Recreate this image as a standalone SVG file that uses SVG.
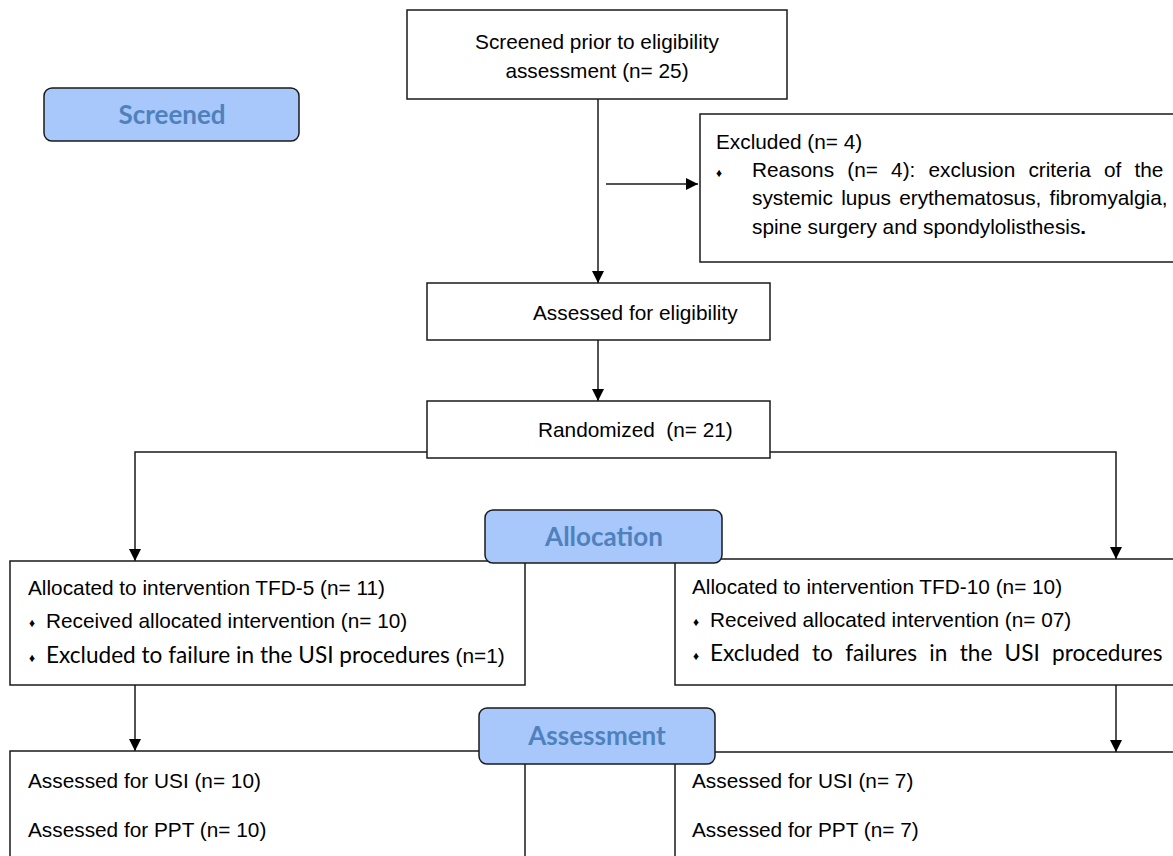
<svg xmlns="http://www.w3.org/2000/svg" width="1173" height="856" viewBox="0 0 1173 856">
<defs>
<marker id="ah" viewBox="0 0 12 12" refX="12" refY="6" markerWidth="12" markerHeight="12" markerUnits="userSpaceOnUse" orient="auto">
<path d="M0,0 L12,6 L0,12 Z" fill="#000"/>
</marker>
<style>
.box{fill:#fff;stroke:#1a1a1a;stroke-width:1.5}
.hdr{fill:#a8c8fb;stroke:#1a1a1a;stroke-width:1.5}
.ht{font-family:Lato,"Open Sans",sans-serif;font-weight:bold;font-size:26px;fill:#4f81bd;text-anchor:middle}
.t{font-family:"Liberation Sans",Arial,sans-serif;font-size:20.8px;fill:#000}
.c{font-family:Lato,"Open Sans",sans-serif;font-size:22.6px;fill:#000}
.b{font-family:"Liberation Sans",Arial,sans-serif;font-size:12px;fill:#000}
.ln{fill:none;stroke:#1a1a1a;stroke-width:1.5}
</style>
</defs>
<rect width="1173" height="856" fill="#fff"/>

<g id="connectors">
<path class="ln" d="M598,99 V283" marker-end="url(#ah)"/>
<path class="ln" d="M606,184 H698" marker-end="url(#ah)"/>
<path class="ln" d="M598,340 V401" marker-end="url(#ah)"/>
<path class="ln" d="M427,452 H135 V561" marker-end="url(#ah)"/>
<path class="ln" d="M770,452 H1116 V559" marker-end="url(#ah)"/>
<path class="ln" d="M135,685 V751" marker-end="url(#ah)"/>
<path class="ln" d="M1116,685 V752" marker-end="url(#ah)"/>
</g>

<g id="screened-prior">
<rect class="box" x="407" y="10" width="380" height="89"/>
<text class="t" x="597" y="49" text-anchor="middle">Screened prior to eligibility</text>
<text class="t" x="597" y="78" text-anchor="middle">assessment (n= 25)</text>
</g>

<g id="excluded">
<rect class="box" x="700" y="114" width="480" height="148"/>
<text class="t" x="716" y="149">Excluded (n= 4)</text>
<text class="b" x="716" y="177">♦</text>
<text class="t" x="752" y="177" word-spacing="7.4">Reasons (n= 4): exclusion criteria of the</text>
<text class="t" x="752" y="205" word-spacing="2.5">systemic lupus erythematosus, fibromyalgia,</text>
<text class="t" x="752" y="234">spine surgery and spondylolisthesis<tspan font-weight="bold">.</tspan></text>
</g>

<g id="assessed-eligibility">
<rect class="box" x="427" y="283" width="343" height="57"/>
<text class="t" x="533" y="320">Assessed for eligibility</text>
</g>

<g id="randomized">
<rect class="box" x="427" y="401" width="343" height="57"/>
<text class="t" x="538" y="437" xml:space="preserve">Randomized  (n= 21)</text>
</g>

<g id="alloc-left">
<rect class="box" x="10" y="561" width="515" height="124"/>
<text class="t" x="28" y="595">Allocated to intervention TFD-5 (n= 11)</text>
<text class="b" x="29" y="627">♦</text>
<text class="t" x="46" y="628">Received allocated intervention (n= 10)</text>
<text class="b" x="29" y="662">♦</text>
<text class="c" x="46" y="663">Excluded to failure in the USI procedures <tspan font-size="20.8px" font-family="Liberation Sans, Arial, sans-serif">(n=1)</tspan></text>
</g>

<g id="alloc-right">
<rect class="box" x="675" y="559" width="510" height="126"/>
<text class="t" x="692" y="594">Allocated to intervention TFD-10 (n= 10)</text>
<text class="b" x="693" y="626">♦</text>
<text class="t" x="710" y="627">Received allocated intervention (n= 07)</text>
<text class="b" x="693" y="660">♦</text>
<text class="c" x="710" y="661" word-spacing="6.5">Excluded to failures in the USI procedures</text>
</g>

<g id="assess-left">
<rect class="box" x="10" y="751" width="515" height="120"/>
<text class="t" x="28" y="788">Assessed for USI (n= 10)</text>
<text class="t" x="28" y="837">Assessed for PPT (n= 10)</text>
</g>

<g id="assess-right">
<rect class="box" x="675" y="752" width="510" height="120"/>
<text class="t" x="692" y="788">Assessed for USI (n= 7)</text>
<text class="t" x="692" y="837">Assessed for PPT (n= 7)</text>
</g>

<g id="hdr-screened">
<rect class="hdr" x="44" y="88" width="255" height="53" rx="8"/>
<text class="ht" x="172" y="124">Screened</text>
</g>

<g id="hdr-allocation">
<rect class="hdr" x="485" y="510" width="237" height="53" rx="8"/>
<text class="ht" x="604" y="546">Allocation</text>
</g>

<g id="hdr-assessment">
<rect class="hdr" x="479" y="708" width="236" height="56" rx="8"/>
<text class="ht" x="597" y="745">Assessment</text>
</g>
</svg>
